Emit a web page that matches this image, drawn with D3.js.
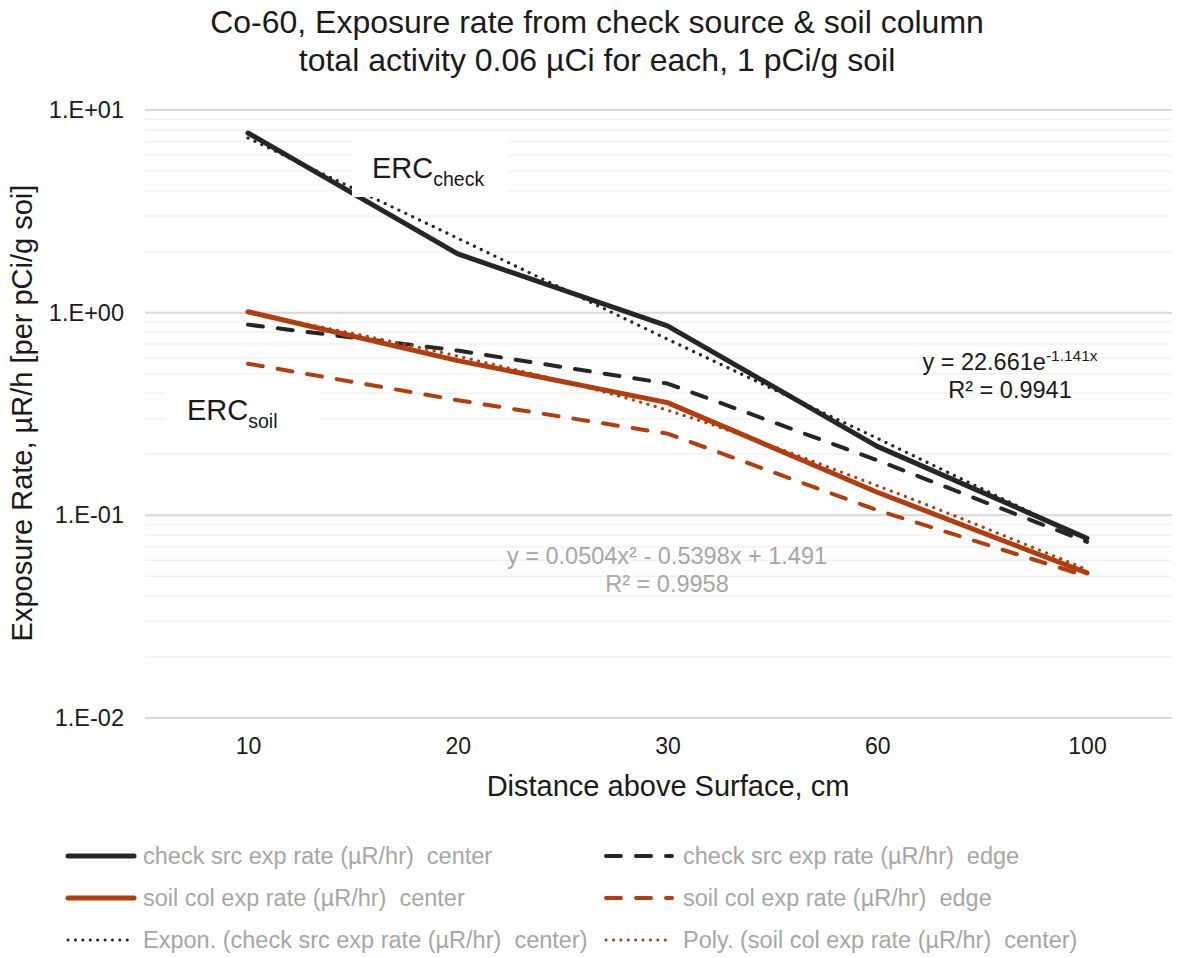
<!DOCTYPE html>
<html>
<head>
<meta charset="utf-8">
<script src="https://cdn.jsdelivr.net/npm/d3@7"></script>
<style>
  body { margin: 0; background: #fff; }
  text { font-family: "Liberation Sans", Arial, sans-serif; white-space: pre; }
</style>
</head>
<body>
<div id="chart"></div>
<script>
// distances (cm), categorical x axis
const distances = ["10", "20", "30", "60", "100"];

// exposure rates, uR/h per pCi/g
const checkCenter = [7.7, 1.95, 0.86, 0.219, 0.077];
const checkEdge = [0.873, 0.65, 0.447, 0.187, 0.074];
const soilCenter = [1.01, 0.58, 0.36, 0.13, 0.052];
const soilEdge = [0.56, 0.37, 0.253, 0.106, 0.050];

// trendlines as drawn in the picture
const exponCheck = [7.27, 2.33, 0.74, 0.24, 0.076];
const polySoil = [1.0, 0.61, 0.33, 0.14, 0.054];

const yTicks = [0.01, 0.1, 1, 10];
const yTickLabels = ["1.E-02", "1.E-01", "1.E+00", "1.E+01"];

const width = 1183, height = 958;
const dark = "#262626", brown = "#b23d0e", grey = "#a6a6a6";

let svg = d3.select("#chart")
    .append("svg")
    .attr("width", width)
    .attr("height", height);

// plot area
let plotLeft = 145, plotRight = 1172;

let x = d3.scalePoint()
    .domain(distances)
    .range([248, 1087]);

let y = d3.scaleLog()
    .domain([0.01, 10])
    .range([718, 110]);

// minor gridlines (2..9 in each decade)
let minor = [];
[0.01, 0.1, 1].forEach(function(base) {
    for (let k = 2; k <= 9; k++) minor.push(base * k);
});

svg.append("g").selectAll("line")
    .data(minor)
    .enter().append("line")
    .attr("x1", plotLeft).attr("x2", plotRight)
    .attr("y1", d => y(d)).attr("y2", d => y(d))
    .attr("stroke", "#f2f2f2")
    .attr("stroke-width", 1.5);

// major gridlines
svg.append("g").selectAll("line")
    .data(yTicks)
    .enter().append("line")
    .attr("x1", plotLeft).attr("x2", plotRight)
    .attr("y1", d => y(d)).attr("y2", d => y(d))
    .attr("stroke", "#d9d9d9")
    .attr("stroke-width", 2);

// y axis labels
let yAxis = svg.append("g")
    .attr("transform", `translate(${plotLeft}, 0)`)
    .call(d3.axisLeft(y).tickValues(yTicks)
        .tickFormat((d, i) => yTickLabels[i])
        .tickSize(0).tickPadding(21));
yAxis.select(".domain").remove();
yAxis.selectAll("text")
    .style("font-size", "23.5px")
    .attr("fill", "#1a1a1a");

// x axis labels
let xAxis = svg.append("g")
    .attr("transform", `translate(0, 718)`)
    .call(d3.axisBottom(x).tickSize(0).tickPadding(20));
xAxis.select(".domain").remove();
xAxis.selectAll("text")
    .style("font-size", "23px")
    .attr("fill", "#1a1a1a");

// titles
svg.append("text")
    .attr("x", 597).attr("y", 33)
    .style("text-anchor", "middle")
    .style("font-size", "32px")
    .attr("fill", "#1a1a1a")
    .text("Co-60, Exposure rate from check source & soil column");
svg.append("text")
    .attr("x", 597).attr("y", 71)
    .style("text-anchor", "middle")
    .style("font-size", "32px")
    .attr("fill", "#1a1a1a")
    .text("total activity 0.06 \u00b5Ci for each, 1 pCi/g soil");

svg.append("text")
    .attr("x", 668).attr("y", 796)
    .style("text-anchor", "middle")
    .style("font-size", "29px")
    .attr("fill", "#1a1a1a")
    .text("Distance above Surface, cm");

svg.append("text")
    .attr("transform", "translate(32, 413) rotate(-90)")
    .style("text-anchor", "middle")
    .style("font-size", "29px")
    .attr("fill", "#1a1a1a")
    .text("Exposure Rate, \u00b5R/h [per pCi/g soi]");

// series
let series = [
    { values: checkCenter, color: dark, w: 5, dash: null, curve: d3.curveLinear },
    { values: checkEdge, color: dark, w: 4, dash: "15,15", curve: d3.curveLinear },
    { values: soilCenter, color: brown, w: 5, dash: null, curve: d3.curveLinear },
    { values: soilEdge, color: brown, w: 4, dash: "15,15", curve: d3.curveLinear },
    { values: exponCheck, color: dark, w: 3.2, dash: "0.1,7.5", curve: d3.curveLinear },
    { values: polySoil, color: brown, w: 3.2, dash: "0.1,7.5", curve: d3.curveMonotoneX }
];

series.forEach(function(s) {
    let line = d3.line()
        .x((d, i) => x(distances[i]))
        .y(d => y(d))
        .curve(s.curve);
    svg.append("path")
        .datum(s.values)
        .attr("d", line)
        .attr("fill", "none")
        .attr("stroke", s.color)
        .attr("stroke-width", s.w)
        .attr("stroke-linecap", "round")
        .attr("stroke-linejoin", "round")
        .attr("stroke-dasharray", s.dash);
});

// ERC labels with white boxes
function ercLabel(bx, by, bw, bh, tx, ty, sub) {
    svg.append("rect")
        .attr("x", bx).attr("y", by)
        .attr("width", bw).attr("height", bh)
        .attr("fill", "#fff");
    let t = svg.append("text")
        .attr("x", tx).attr("y", ty)
        .style("font-size", "29px")
        .attr("fill", "#1a1a1a");
    t.append("tspan").text("ERC");
    t.append("tspan")
        .attr("dy", 8)
        .style("font-size", "19.5px")
        .text(sub);
}
ercLabel(352, 140, 155, 57, 372, 178, "check");
ercLabel(166, 388, 154, 45, 187, 420, "soil");

// trendline equations
let eq1 = svg.append("text")
    .attr("x", 1010).attr("y", 370)
    .style("text-anchor", "middle")
    .style("font-size", "23.5px")
    .attr("fill", "#1a1a1a");
eq1.append("tspan").text("y = 22.661e");
eq1.append("tspan").attr("dy", -9).style("font-size", "15.5px").text("-1.141x");
svg.append("text")
    .attr("x", 1010).attr("y", 398)
    .style("text-anchor", "middle")
    .style("font-size", "23.5px")
    .attr("fill", "#1a1a1a")
    .text("R\u00b2 = 0.9941");

svg.append("text")
    .attr("x", 667).attr("y", 564)
    .style("text-anchor", "middle")
    .style("font-size", "23.5px")
    .attr("fill", grey)
    .text("y = 0.0504x\u00b2 - 0.5398x + 1.491");
svg.append("text")
    .attr("x", 667).attr("y", 592)
    .style("text-anchor", "middle")
    .style("font-size", "23.5px")
    .attr("fill", grey)
    .text("R\u00b2 = 0.9958");

// legend
let legendItems = [
    { label: "check src exp rate (\u00b5R/hr)  center", color: dark, w: 5, dash: null, col: 0, row: 0 },
    { label: "check src exp rate (\u00b5R/hr)  edge", color: dark, w: 4, dash: "15,15", col: 1, row: 0 },
    { label: "soil col exp rate (\u00b5R/hr)  center", color: brown, w: 5, dash: null, col: 0, row: 1 },
    { label: "soil col exp rate (\u00b5R/hr)  edge", color: brown, w: 4, dash: "15,15", col: 1, row: 1 },
    { label: "Expon. (check src exp rate (\u00b5R/hr)  center)", color: dark, w: 3, dash: "0.1,7.3", col: 0, row: 2 },
    { label: "Poly. (soil col exp rate (\u00b5R/hr)  center)", color: brown, w: 3, dash: "0.1,7.3", col: 1, row: 2 }
];

let legend = svg.append("g");
legendItems.forEach(function(d) {
    let lx = d.col === 0 ? 68 : 606;
    let ly = 856 + d.row * 42;
    legend.append("line")
        .attr("x1", lx).attr("x2", lx + 66)
        .attr("y1", ly).attr("y2", ly)
        .attr("stroke", d.color)
        .attr("stroke-width", d.w)
        .attr("stroke-linecap", "round")
        .attr("stroke-dasharray", d.dash);
    legend.append("text")
        .attr("x", d.col === 0 ? 143 : 683).attr("y", ly + 8)
        .style("font-size", "23.5px")
        .attr("fill", grey)
        .text(d.label);
});
</script>
</body>
</html>
